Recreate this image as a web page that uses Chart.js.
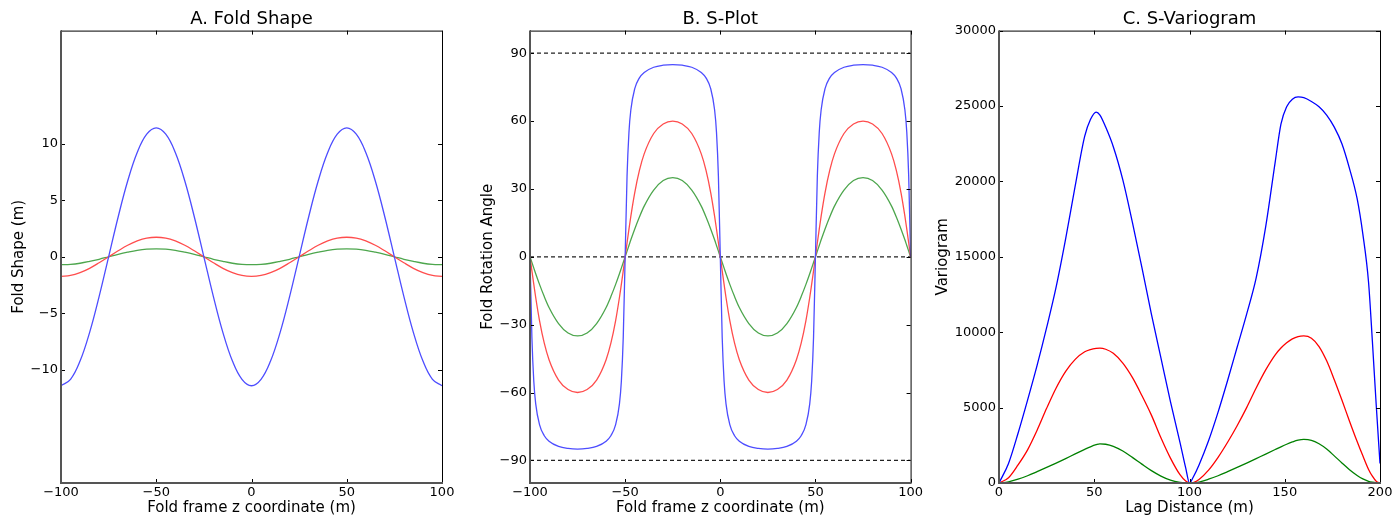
<!DOCTYPE html>
<html lang="en">
<head>
<meta charset="UTF-8" />
<title>Fold Shape / S-Plot / S-Variogram</title>
<script src="https://cdn.jsdelivr.net/npm/chart.js"></script>
<style>
  body { margin: 0; background: #fff; }
  .panel { position: absolute; top: 0; height: 519px; }
  #pa { left: 0; width: 460px; }
  #pb { left: 460px; width: 465px; }
  #pc { left: 925px; width: 470px; }
</style>
</head>
<body>
<div class="panel" id="pa"><canvas id="chartA"></canvas></div>
<div class="panel" id="pb"><canvas id="chartB"></canvas></div>
<div class="panel" id="pc"><canvas id="chartC"></canvas></div>

<script>
// A. Fold shape
const foldZ = [-100,-95,-90,-85,-80,-75,-70,-65,-60,-55,-50,-45,-40,-35,-30,-25,-20,-15,-10,-5,0,
  5,10,15,20,25,30,35,40,45,50,55,60,65,70,75,80,85,90,95,100];
const shapeBlue = [-11.4,-10.84,-9.22,-6.70,-3.52,0,3.52,6.70,9.22,10.84,11.4,10.84,9.22,6.70,3.52,0,-3.52,-6.70,-9.22,-10.84,-11.4,
  -10.84,-9.22,-6.70,-3.52,0,3.52,6.70,9.22,10.84,11.4,10.84,9.22,6.70,3.52,0,-3.52,-6.70,-9.22,-10.84,-11.4];
const shapeRed = [-1.73,-1.65,-1.40,-1.02,-0.53,0,0.53,1.02,1.40,1.65,1.73,1.65,1.40,1.02,0.53,0,-0.53,-1.02,-1.40,-1.65,-1.73,
  -1.65,-1.40,-1.02,-0.53,0,0.53,1.02,1.40,1.65,1.73,1.65,1.40,1.02,0.53,0,-0.53,-1.02,-1.40,-1.65,-1.73];
const shapeGreen = [-0.70,-0.67,-0.57,-0.41,-0.22,0,0.22,0.41,0.57,0.67,0.70,0.67,0.57,0.41,0.22,0,-0.22,-0.41,-0.57,-0.67,-0.70,
  -0.67,-0.57,-0.41,-0.22,0,0.22,0.41,0.57,0.67,0.70,0.67,0.57,0.41,0.22,0,-0.22,-0.41,-0.57,-0.67,-0.70];
const foldTicks = [-100, -50, 0, 50, 100];
const shapeTicks = [-10, -5, 0, 5, 10];

// B. S-plot
const angleZ = [-100,-99,-98,-97,-95,-92.5,-90,-85,-80,-75,-70,-65,-60,-57.5,-55,-53,-52,-51,
  -50,-49,-48,-47,-45,-42.5,-40,-35,-30,-25,-20,-15,-10,-7.5,-5,-3,-2,-1,
  0,1,2,3,5,7.5,10,15,20,25,30,35,40,42.5,45,47,48,49,
  50,51,52,53,55,57.5,60,65,70,75,80,85,90,92.5,95,97,98,99,100];
const angleBlue = [0,-35.7,-55.1,-65.0,-74.2,-79.1,-81.5,-83.8,-84.7,-85.0,-84.7,-83.8,-81.5,-79.1,-74.2,-65.0,-55.1,-35.7,
  0,35.7,55.1,65.0,74.2,79.1,81.5,83.8,84.7,85.0,84.7,83.8,81.5,79.1,74.2,65.0,55.1,35.7,
  0,-35.7,-55.1,-65.0,-74.2,-79.1,-81.5,-83.8,-84.7,-85.0,-84.7,-83.8,-81.5,-79.1,-74.2,-65.0,-55.1,-35.7,
  0,35.7,55.1,65.0,74.2,79.1,81.5,83.8,84.7,85.0,84.7,83.8,81.5,79.1,74.2,65.0,55.1,35.7,0];
const angleRed = [0,-6.2,-12.2,-18.0,-28.2,-38.2,-45.5,-54.5,-58.7,-60.0,-58.7,-54.5,-45.5,-38.2,-28.2,-18.0,-12.2,-6.2,
  0,6.2,12.2,18.0,28.2,38.2,45.5,54.5,58.7,60.0,58.7,54.5,45.5,38.2,28.2,18.0,12.2,6.2,
  0,-6.2,-12.2,-18.0,-28.2,-38.2,-45.5,-54.5,-58.7,-60.0,-58.7,-54.5,-45.5,-38.2,-28.2,-18.0,-12.2,-6.2,
  0,6.2,12.2,18.0,28.2,38.2,45.5,54.5,58.7,60.0,58.7,54.5,45.5,38.2,28.2,18.0,12.2,6.2,0];
const angleGreen = [0,-2.5,-5.0,-7.5,-12.2,-17.6,-22.4,-29.5,-33.7,-35.0,-33.7,-29.5,-22.4,-17.6,-12.2,-7.5,-5.0,-2.5,
  0,2.5,5.0,7.5,12.2,17.6,22.4,29.5,33.7,35.0,33.7,29.5,22.4,17.6,12.2,7.5,5.0,2.5,
  0,-2.5,-5.0,-7.5,-12.2,-17.6,-22.4,-29.5,-33.7,-35.0,-33.7,-29.5,-22.4,-17.6,-12.2,-7.5,-5.0,-2.5,
  0,2.5,5.0,7.5,12.2,17.6,22.4,29.5,33.7,35.0,33.7,29.5,22.4,17.6,12.2,7.5,5.0,2.5,0];
const refAngles = [90, 0, -90];
const angleTicks = [-90, -60, -30, 0, 30, 60, 90];

// C. S-variogram
const lag = [0,5,10,15,20,25,30,35,40,45,48,51,53,56,60,65,70,75,80,85,90,95,98,100,102,
  105,110,115,120,125,130,135,140,145,148,151,154,157,160,164,168,172,176,180,184,188,191,194,196,198,200];
const varioBlue = [0,1300,3300,5500,7800,10300,13000,16200,19700,23000,24100,24600,24400,23600,22300,20100,17300,14300,11200,8300,5400,2700,1000,0,400,
  1200,2800,4700,6800,9000,11200,13600,17000,21300,23800,24950,25450,25600,25550,25300,24950,24400,23600,22500,20850,18850,16500,13300,9400,5200,1300];
const varioRed = [0,350,1200,2200,3500,4950,6300,7400,8200,8700,8850,8930,8950,8870,8600,7950,7000,5800,4500,3000,1650,550,130,0,30,
  230,850,1700,2700,3800,5000,6300,7500,8500,8950,9300,9560,9710,9750,9600,9050,8100,6850,5500,4100,2750,1800,900,450,120,0];
const varioGreen = [0,80,250,480,750,1030,1320,1620,1930,2230,2400,2540,2600,2570,2430,2120,1700,1250,820,460,190,45,8,0,5,
  60,250,480,750,1030,1320,1620,1920,2220,2400,2570,2720,2840,2890,2830,2600,2250,1800,1330,880,500,270,110,50,12,0];
const lagTicks = [0, 50, 100, 150, 200];
const varioTicks = [0, 5000, 10000, 15000, 20000, 25000, 30000];

Chart.defaults.font.family = "'DejaVu Sans', sans-serif";
Chart.defaults.color = '#000';

const fmt = v => String(v).replace('-', '\u2212');
const pts = (xs, ys) => xs.map((x, i) => ({ x: x, y: ys[i] }));

function line(xs, ys, color, smooth) {
  const ds = { data: pts(xs, ys), borderColor: color, borderWidth: 1.3, pointRadius: 0, fill: false };
  if (smooth === 'spline') { ds.tension = 0.4; }
  else { ds.cubicInterpolationMode = 'monotone'; }
  return ds;
}

// matplotlib-ish frame with inward ticks on every side
const frame = {
  id: 'frame',
  afterDatasetsDraw(chart) {
    const { ctx, chartArea: a, scales: { x, y } } = chart;
    ctx.save();
    ctx.strokeStyle = '#000';
    ctx.lineWidth = 1;
    ctx.beginPath();
    x.ticks.forEach(t => {
      const px = Math.round(x.getPixelForValue(t.value)) + 0.5;
      ctx.moveTo(px, a.top); ctx.lineTo(px, a.top + 4);
      ctx.moveTo(px, a.bottom); ctx.lineTo(px, a.bottom - 4);
    });
    y.ticks.forEach(t => {
      const py = Math.round(y.getPixelForValue(t.value)) + 0.5;
      ctx.moveTo(a.left, py); ctx.lineTo(a.left + 4, py);
      ctx.moveTo(a.right, py); ctx.lineTo(a.right - 4, py);
    });
    ctx.moveTo(a.left, a.top + 0.5); ctx.lineTo(a.right + 0.5, a.top + 0.5);
    ctx.lineTo(a.right + 0.5, a.bottom);
    ctx.stroke();
    ctx.strokeStyle = '#555';
    ctx.lineWidth = 2;
    ctx.beginPath();
    ctx.moveTo(a.left, a.top); ctx.lineTo(a.left, a.bottom); ctx.lineTo(a.right + 1, a.bottom);
    ctx.stroke();
    ctx.restore();
  }
};

function makeChart(id, p) {
  new Chart(document.getElementById(id), {
    type: 'line',
    data: { datasets: p.datasets },
    plugins: [frame],
    options: {
      responsive: true,
      maintainAspectRatio: false,
      animation: false,
      events: [],
      layout: { padding: { left: 0, right: p.rightPad, top: 0, bottom: 0 } },
      plugins: {
        legend: { display: false },
        tooltip: { enabled: false },
        title: { display: true, text: p.title, fullSize: false, color: '#000',
                 font: { size: 18, weight: 'normal' }, padding: { top: 9, bottom: 0 } }
      },
      scales: {
        x: {
          type: 'linear', min: p.xMin, max: p.xMax,
          afterBuildTicks: s => { s.ticks = p.xTicks.map(v => ({ value: v })); },
          afterFit: s => { s.height = 36; },
          grid: { display: false, drawTicks: false },
          border: { display: false },
          ticks: { padding: 2, autoSkip: false, maxRotation: 0, font: { size: 13 }, color: '#000', callback: fmt },
          title: { display: true, text: p.xTitle, color: '#000', font: { size: 15 }, padding: { top: 0, bottom: 2 } }
        },
        y: {
          min: p.yMin, max: p.yMax,
          afterBuildTicks: s => { s.ticks = p.yTicks.map(v => ({ value: v })); },
          afterFit: s => { s.width = p.yWidth; },
          grid: { display: false, drawTicks: false },
          border: { display: false },
          ticks: { padding: 3, autoSkip: false, font: { size: 13 }, color: '#000', callback: fmt },
          title: { display: true, text: p.yTitle, color: '#000', font: { size: 15 }, padding: { top: p.yTitlePad, bottom: 0 } }
        }
      }
    }
  });
}

const fadedBlue = '#4d4dff', fadedRed = '#ff4d4d', fadedGreen = '#4da64d';

makeChart('chartA', {
  title: 'A. Fold Shape', xTitle: 'Fold frame z coordinate (m)', yTitle: 'Fold Shape (m)',
  xMin: -100, xMax: 100, yMin: -20, yMax: 20, xTicks: foldTicks, yTicks: shapeTicks,
  yWidth: 61, yTitlePad: 10, rightPad: 18,
  datasets: [
    line(foldZ, shapeBlue, fadedBlue, 'spline'),
    line(foldZ, shapeRed, fadedRed, 'spline'),
    line(foldZ, shapeGreen, fadedGreen, 'spline')
  ]
});

makeChart('chartB', {
  title: 'B. S-Plot', xTitle: 'Fold frame z coordinate (m)', yTitle: 'Fold Rotation Angle',
  xMin: -100, xMax: 100, yMin: -100, yMax: 100, xTicks: foldTicks, yTicks: angleTicks,
  yWidth: 70, yTitlePad: 19, rightPad: 14,
  datasets: [
    line(angleZ, angleBlue, fadedBlue),
    line(angleZ, angleRed, fadedRed),
    line(angleZ, angleGreen, fadedGreen)
  ].concat(refAngles.map(a => ({
    data: pts([-100, 100], [a, a]), borderColor: '#222', borderWidth: 1.2,
    borderDash: [4, 3], pointRadius: 0, fill: false
  })))
});

makeChart('chartC', {
  title: 'C. S-Variogram', xTitle: 'Lag Distance (m)', yTitle: 'Variogram',
  xMin: 0, xMax: 200, yMin: 0, yMax: 30000, xTicks: lagTicks, yTicks: varioTicks,
  yWidth: 74, yTitlePad: 9, rightPad: 15,
  datasets: [
    line(lag, varioBlue, '#0000ff'),
    line(lag, varioRed, '#ff0000'),
    line(lag, varioGreen, '#008000')
  ]
});
</script>
</body>
</html>
